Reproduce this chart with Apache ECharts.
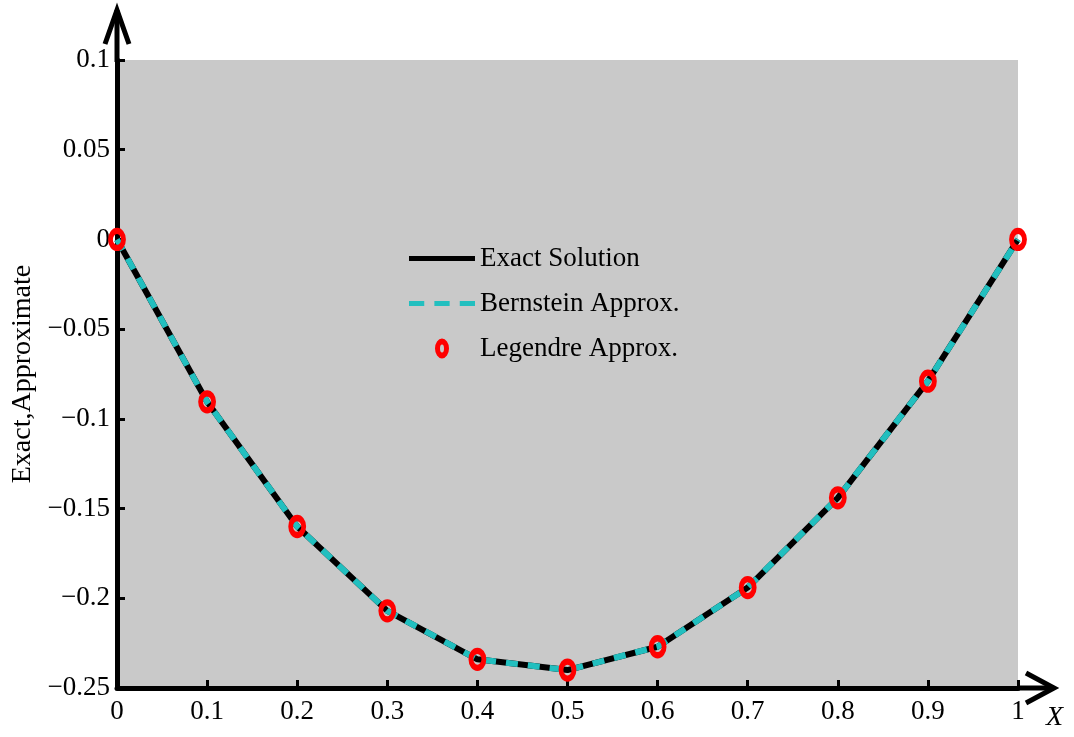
<!DOCTYPE html>
<html>
	<head>
		<meta charset="UTF-8">
		<title></title>
		<style>
			html, body { margin: 0; padding: 0; background: #fff; }
		</style>
	</head>
	<body>
		<div id="main" style="width:1074px;height:737px;"></div>
	</body>
	<script src="https://cdn.jsdelivr.net/npm/echarts@6/dist/echarts.min.js" type="text/javascript" charset="utf-8"></script>
	<script type="text/javascript">

		var xs = [0, 0.1, 0.2, 0.3, 0.4, 0.5, 0.6, 0.7, 0.8, 0.9, 1];
		var exact = [0, -0.0905, -0.160, -0.207, -0.234, -0.240, -0.227, -0.194, -0.144, -0.079, 0];
		var bernstein = [0, -0.0905, -0.160, -0.207, -0.234, -0.240, -0.227, -0.194, -0.144, -0.079, 0];
		var legendre = [0, -0.0905, -0.160, -0.207, -0.234, -0.240, -0.227, -0.194, -0.144, -0.079, 0];
		var seriesNames = ['Exact Solution', 'Bernstein Approx.', 'Legendre Approx.'];

		var font = 'Liberation Serif';
		var cyan = '#22bfbf';

		function pairs(vals) {
			var res = [];
			for (var i = 0; i < xs.length; i++) {
				res.push([xs[i], vals[i]]);
			}
			return res;
		}

		var myChart = echarts.init(document.getElementById('main'));

		var option = {
			animation: false,
			backgroundColor: '#fff',
			grid: {
				left: 117,
				right: 56,
				top: 60,
				bottom: 49,
				show: true,
				backgroundColor: '#c9c9c9',
				borderWidth: 0
			},
			legend: {
				orient: 'vertical',
				left: 404,
				top: 240,
				itemWidth: 66,
				itemHeight: 20,
				itemGap: 18,
				textStyle: {
					fontFamily: font,
					fontSize: 27,
					color: '#000'
				},
				data: [
					{name: seriesNames[0], icon: 'path://M0,0H66V5H0Z'},
					{name: seriesNames[1], icon: 'path://M0,0H15V5H0Z M25,0H40V5H25Z M50,0H65V5H50Z'},
					{name: seriesNames[2], icon: 'path://M33,0A7,10,0,1,1,32.99,0Z M33,6A2,4,0,1,0,33.01,6Z', itemStyle: {color: '#ff0000', borderWidth: 0}}
				]
			},
			xAxis: {
				type: 'value',
				min: 0,
				max: 1,
				interval: 0.1,
				splitLine: {show: false},
				axisLine: {onZero: false, lineStyle: {color: '#000', width: 5}},
				axisTick: {inside: true, length: 8, lineStyle: {color: '#000', width: 3}},
				axisLabel: {
					margin: 10,
					color: '#000',
					fontFamily: font,
					fontSize: 27,
					formatter: function (v) { return String(Math.round(v * 10) / 10); }
				}
			},
			yAxis: {
				type: 'value',
				min: -0.25,
				max: 0.1,
				interval: 0.05,
				name: 'Exact,Approximate',
				nameLocation: 'middle',
				nameGap: 76,
				nameTextStyle: {
					fontFamily: font,
					fontSize: 28,
					color: '#000'
				},
				splitLine: {show: false},
				axisLine: {onZero: false, lineStyle: {color: '#000', width: 5}},
				axisTick: {inside: true, length: 8, lineStyle: {color: '#000', width: 3}},
				axisLabel: {
					margin: 7,
					color: '#000',
					fontFamily: font,
					fontSize: 27,
					formatter: function (v) {
						return String(Math.round(v * 100) / 100).replace('-', '\u2212');
					}
				}
			},
			series: [
				{
					name: seriesNames[0],
					type: 'line',
					data: pairs(exact),
					symbol: 'none',
					lineStyle: {color: '#000', width: 6},
					itemStyle: {color: '#000'},
					z: 2
				},
				{
					name: seriesNames[1],
					type: 'line',
					data: pairs(bernstein),
					symbol: 'none',
					lineStyle: {color: cyan, width: 6, type: [12, 10]},
					itemStyle: {color: cyan},
					z: 3
				},
				{
					name: seriesNames[2],
					type: 'scatter',
					data: pairs(legendre),
					symbol: 'circle',
					symbolSize: [13, 17],
					itemStyle: {
						color: 'rgba(0,0,0,0)',
						borderColor: '#ff0000',
						borderWidth: 5.5,
						opacity: 1
					},
					z: 4
				}
			]
		};
		myChart.setOption(option);

		// axis arrows and the X label
		var o = myChart.convertToPixel({gridIndex: 0}, [0, -0.25]);
		var t = myChart.convertToPixel({gridIndex: 0}, [0, 0.1]);
		var r = myChart.convertToPixel({gridIndex: 0}, [1, -0.25]);
		var ax = o[0], ay = o[1];
		var topY = t[1], rightX = r[0] + 3;
		var arrowStyle = {stroke: '#000', lineWidth: 5, fill: null, lineJoin: 'miter', lineCap: 'butt'};

		myChart.setOption({
			graphic: [
				{type: 'line', shape: {x1: ax, y1: topY + 2, x2: ax, y2: 10}, style: arrowStyle, z: 10},
				{type: 'polyline', shape: {points: [[ax - 12, 44], [ax, 10], [ax + 12, 44]]}, style: arrowStyle, z: 10},
				{type: 'line', shape: {x1: rightX - 4, y1: ay, x2: 1054, y2: ay}, style: arrowStyle, z: 10},
				{type: 'polyline', shape: {points: [[1026, ay - 15], [1054, ay], [1026, ay + 15]]}, style: arrowStyle, z: 10},
				{
					type: 'text',
					left: 1046,
					top: 704,
					style: {text: 'X', fontFamily: font, fontStyle: 'italic', fontSize: 28, fill: '#000'},
					z: 10
				}
			]
		});
	</script>
</html>
